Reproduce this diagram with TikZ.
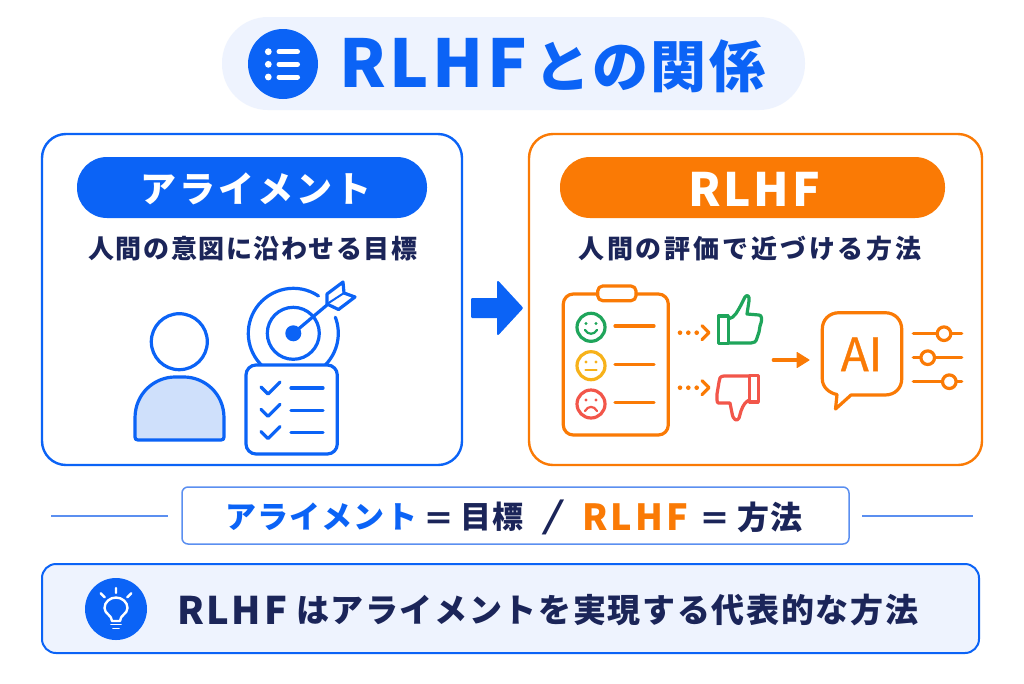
\documentclass[tikz,border=0pt]{standalone}
\usepackage{fontspec}
\setmainfont{Noto Sans CJK JP}
\newfontfamily\aifont[FakeBold=0.7]{Noto Sans CJK JP}
\usetikzlibrary{arrows.meta}
\definecolor{blu}{HTML}{0B63F6}
\definecolor{org}{HTML}{FA7A05}
\definecolor{pale}{HTML}{EEF3FE}
\definecolor{navy}{HTML}{1B2559}
\definecolor{fillb}{HTML}{CFE0FB}
\definecolor{grn}{HTML}{1FA55B}
\definecolor{yel}{HTML}{F7B21A}
\definecolor{rd}{HTML}{F2564A}
\definecolor{thinb}{HTML}{5B8FF0}
\newcommand{\ls}[2]{\fontsize{#1}{#1}\selectfont\bfseries\addfontfeature{LetterSpace=#2}}
\tikzset{
 txt/.style={inner sep=0pt,outer sep=0pt,anchor=center},
 panel/.style={draw,line width=2.4pt,fill=white,rounded corners=24},
 ic/.style={line width=3.2pt,line cap=round,line join=round},
 icb/.style={ic,draw=blu},
 ico/.style={ic,draw=org},
 whiteic/.style={line width=2.4pt,line cap=round,line join=round,draw=white},
}
\begin{document}
\begin{tikzpicture}[x=1pt,y=-1pt]
\useasboundingbox (0,0) rectangle (1024,683);
\fill[white] (0,0) rectangle (1024,683);
% title
\fill[pale,rounded corners=46] (222,17) rectangle (805,110);
\node[circle,fill=blu,minimum size=70pt,inner sep=0pt] (ticon) at (283,64) {};
\foreach \yy in {51.7,64.3,77}{
 \fill[white] (268.3,\yy) circle (3.4);
 \draw[white,line width=5pt,line cap=round] (279,\yy) -- (297.5,\yy);
}
\node[txt,text=blu] (title) at (552.5,66) {\ls{66}{5}RLHF\kern 8pt\ls{56}{4}との関係};
% panels
\draw[panel,draw=blu] (42,134) rectangle (462,465);
\draw[panel,draw=org] (529,134) rectangle (982,465);
\fill[blu,rounded corners=30] (77,157) rectangle (427,218);
\fill[org,rounded corners=30] (560,157) rectangle (945,218);
\node[txt,text=white] (lp) at (256,189) {\ls{36}{8}アライメント};
\node[txt,text=white] (rp) at (754,189) {\ls{46}{6}RLHF};
\node[txt,text=navy] (ls) at (253,249) {\ls{26}{6}人間の意図に沿わせる目標};
\node[txt,text=navy] (rs) at (750,249) {\ls{26}{11}人間の評価で近づける方法};
% person
\draw[icb] (179.3,341.7) circle (28);
\draw[icb,fill=fillb] (135,437) -- (135,418) .. controls (135,393) and (155,377) .. (175,377) -- (184,377) .. controls (204,377) and (224,393) .. (224,418) -- (224,437) .. controls (224,439) and (223,440) .. (221,440) -- (138,440) .. controls (136,440) and (135,439) .. (135,437) -- cycle;
% target
\draw[icb] (293.3,333.3) ++(-56:45) arc (-56:-226:45);
\draw[icb] (293.3,333.3) ++(-21:45) arc (-21:44:45);
\draw[icb] (293.3,333.3) circle (26);
\fill[blu] (293.3,333.3) circle (8);
\draw[icb] (293.3,333.3) -- (327,305);
\draw[icb] (327,294) -- (343,282) -- (344,293) -- (355,297) -- (338.5,309.5) -- (327,304) -- cycle;
\draw[icb,line width=2pt] (327,304) -- (344,293);
% checklist
\draw[icb,fill=white,rounded corners=10] (246,365) rectangle (337.3,454);
\foreach \yy in {0,22.3,44.6}{
 \draw[icb] (261,387+\yy) -- (268,394+\yy) -- (280,382+\yy);
 \draw[icb] (291,388+\yy) -- (323,388+\yy);
}
% main arrow
\fill[blu,draw=blu,line width=2pt,line join=round] (472,299) -- (498,299) -- (498,282) -- (522,308) -- (498,334) -- (498,317) -- (472,317) -- cycle;
% clipboard
\draw[ico,rounded corners=10] (563.3,294) rectangle (668.3,435);
\draw[ico,fill=white,rounded corners=5] (597.7,286) rectangle (636,300.7);
\draw[ic,draw=grn] (591,327.3) circle (14);
\fill[grn] (586,323.5) circle (1.7) (596,323.5) circle (1.7);
\draw[ic,draw=grn,line width=2.2pt] (585,330) .. controls (588,335) and (594,335) .. (597,330);
\draw[ic,draw=yel] (591,365.7) circle (14);
\fill[yel] (586,362) circle (1.7) (596,362) circle (1.7);
\draw[ic,draw=yel,line width=2.2pt] (585.5,370) -- (596.5,370);
\draw[ic,draw=rd] (591,404) circle (14);
\fill[rd] (586,400) circle (1.7) (596,400) circle (1.7);
\draw[ic,draw=rd,line width=2.2pt] (585,411) .. controls (588,405.5) and (594,405.5) .. (597,411);
\foreach \yy in {326,364.3,402.7}{\draw[ico] (615,\yy) -- (654,\yy);}
% dotted arrows
\foreach \yy in {332.7,387.7}{
 \fill[org] (680,\yy) circle (2.3) (688.3,\yy) circle (2.3) (696.7,\yy) circle (2.3);
 \draw[ico] (702,\yy-7) -- (709,\yy) -- (702,\yy+7);
}
% thumbs up
\draw[ic,draw=grn] (718.3,316) rectangle (728.3,343.3);
\draw[ic,draw=grn] (728.3,319) .. controls (735,318) and (738,310) .. (741,305) -- (745,297) .. controls (747,294) and (750,296) .. (749,301) -- (747,314) -- (759,315) .. controls (762,315) and (762,320) .. (761,323) -- (760,326) -- (759,332) -- (757,338) .. controls (756,342) and (754,343) .. (751,343) -- (728.3,343);
% thumbs down
\draw[ic,draw=rd] (749.5,375.5) rectangle (758.3,402);
\draw[ic,draw=rd] (749.5,376) -- (724,376) .. controls (720,376) and (719,379) .. (719,382) -- (718,388) -- (717,394) -- (717,400) .. controls (717,404) and (719,403) .. (722,403) -- (730,403) -- (732,413) .. controls (733,420) and (737,422) .. (739,418) -- (741,411) .. controls (743,405) and (746,401) .. (749.5,400);
% arrow to AI
\draw[ico] (773.3,360) -- (798,360);
\fill[org,draw=org,line width=1pt,line join=round] (797,352.5) -- (809,360) -- (797,367.5) -- cycle;
% AI bubble
\draw[ico] (839,312.7) -- (885,312.7) .. controls (895,312.7) and (901.7,320) .. (901.7,329) -- (901.7,379) .. controls (901.7,388) and (895,395) .. (885,395) -- (851,395) -- (835.5,409) -- (837,394.5) .. controls (829,393) and (822.3,387) .. (822.3,379) -- (822.3,329) .. controls (822.3,320) and (829,312.7) .. (839,312.7) -- cycle;
\node[txt,text=org] (ai) at (861.5,354.3) {\fontsize{46}{46}\aifont AI};
% sliders
\foreach \yy/\kx in {333.7/944,357.7/927.7,381.7/949.3}{
 \draw[ico] (913.3,\yy) -- (961.7,\yy);
 \draw[ico,fill=white] (\kx,\yy) circle (6.8);
}
% summary row
\draw[thinb,line width=1.3pt] (51,516) -- (168,516);
\draw[thinb,line width=1.3pt] (862,516) -- (973,516);
\draw[thinb,line width=1.5pt,rounded corners=6] (182,487) rectangle (849,544);
\node[txt,anchor=west,text=blu] (s1) at (225,517) {\ls{31}{4}アライメント};
\node[txt,anchor=west,text=navy] (s2) at (423,522) {\ls{31}{0}＝};
\node[txt,anchor=west,text=navy] (s3) at (460,517) {\ls{31}{4}目標};
\node[txt,text=navy,xscale=1.7,transform shape] (s4) at (553.5,517) {\fontsize{36}{36}\selectfont /};
\node[txt,anchor=west,text=org] (s5) at (582,517) {\ls{36}{9}RLHF};
\node[txt,anchor=west,text=navy] (s6) at (699,522) {\ls{31}{0}＝};
\node[txt,anchor=west,text=navy] (s7) at (737,517) {\ls{32}{4}方法};
% bottom box
\draw[blu,line width=2pt,fill=pale,rounded corners=14] (42,564) rectangle (979,653);
\node[circle,fill=blu,minimum size=62pt,inner sep=0pt] (bulb) at (116,609) {};
\draw[whiteic] (112,621) .. controls (112,615) and (104.5,614) .. (104.5,608) .. controls (104.5,602) and (110,597.5) .. (116,597.5) .. controls (122,597.5) and (127.5,602) .. (127.5,608) .. controls (127.5,614) and (120,615) .. (120,621) -- cycle;
\draw[whiteic,line width=1.8pt] (111,624.5) -- (121,624.5) (113,628.5) -- (119,628.5);
\draw[whiteic] (116,588) -- (116,593) (100.7,593.3) -- (104.7,597.3) (131.3,593.3) -- (127.3,597.3);
\node[txt,anchor=west,text=navy] (b1) at (177,610) {\ls{38}{7}RLHF};
\node[txt,anchor=west,text=navy] (b2) at (296,610) {\ls{33}{5}はアライメントを実現する代表的な方法};
\end{tikzpicture}
\end{document}
